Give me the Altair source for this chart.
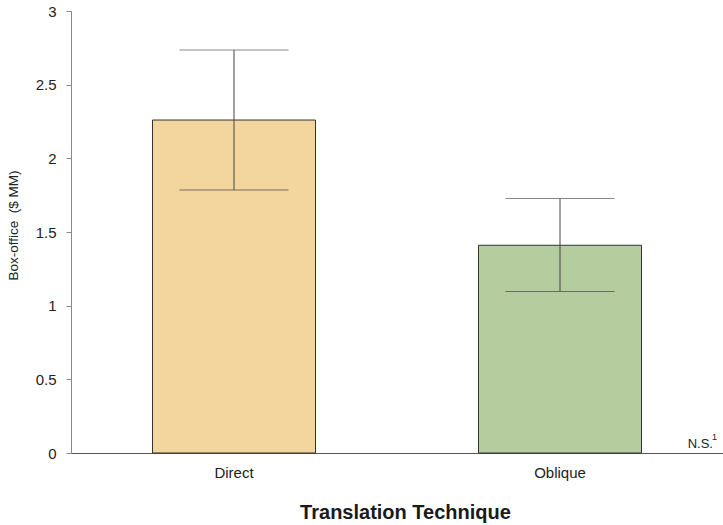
import altair as alt
import pandas as pd

# Mean box-office by translation technique, with error bounds
techniques = ["Direct", "Oblique"]
means = [2.26, 1.41]
lower = [1.785, 1.097]
upper = [2.735, 1.727]
fills = ["#f3d69d", "#b5cc9f"]

df = pd.DataFrame({
    "technique": techniques,
    "mean": means,
    "lower": lower,
    "upper": upper,
    "fill": fills,
})

y_ticks = [i * 0.25 for i in range(13)]

x_enc = alt.X(
    "technique:N",
    sort=techniques,
    scale=alt.Scale(paddingInner=0.5, paddingOuter=0.25),
    axis=alt.Axis(
        title="Translation Technique",
        titleFont="Liberation Sans",
        titleFontSize=20,
        titleFontWeight="bold",
        titleColor="#1a1a1a",
        titleAlign="center",
        titleBaseline="alphabetic",
        titleX=334,
        titleY=65,
        labelAngle=0,
        labelFont="Liberation Sans",
        labelFontSize=15,
        labelColor="#222222",
        labelPadding=12,
        ticks=False,
        domainColor="#555555",
        domainWidth=1,
    ),
)

y_scale = alt.Scale(domain=[0, 3], nice=False)

bars = alt.Chart(df).mark_bar(stroke="#333333", strokeWidth=1).encode(
    x=x_enc,
    y=alt.Y(
        "mean:Q",
        scale=y_scale,
        axis=alt.Axis(
            title="Box-office \u00a0($ MM)",
            titleFont="Liberation Sans",
            titleFontSize=13.5,
            titleFontWeight="normal",
            titleColor="#222222",
            titleAngle=270,
            titleAlign="center",
            titleBaseline="bottom",
            titleX=-51,
            titleY=214,
            values=y_ticks,
            labelExpr="datum.value % 0.5 === 0 ? format(datum.value, '~g') : ''",
            labelFont="Liberation Sans",
            labelFontSize=15,
            labelColor="#222222",
            labelPadding=10,
            tickSize={"condition": {"test": "datum.value % 0.5 === 0", "value": 5}, "value": 3},
            tickColor="#888888",
            domainColor="#888888",
            grid=False,
        ),
    ),
    color=alt.Color("fill:N", scale=None),
)

stems = alt.Chart(df).mark_rule(color="#444444", strokeWidth=1).encode(
    x=alt.X("technique:N", sort=techniques),
    y="lower:Q",
    y2="upper:Q",
)

caps_top = alt.Chart(df).mark_tick(color="#555555", size=109, thickness=1).encode(
    x=alt.X("technique:N", sort=techniques),
    y="upper:Q",
)

caps_bottom = alt.Chart(df).mark_tick(color="#444444", size=109, thickness=1).encode(
    x=alt.X("technique:N", sort=techniques),
    y="lower:Q",
)

# Significance note at the right end of the baseline
note = pd.DataFrame({"text": ["N.S."], "sup": ["1"], "y": [0]})
ns_text = alt.Chart(note).mark_text(
    font="Liberation Sans", fontSize=13, align="right", baseline="alphabetic",
    color="#222222", dx=-10, dy=-5,
).encode(x=alt.value(652), y="y:Q", text="text:N")
ns_sup = alt.Chart(note).mark_text(
    font="Liberation Sans", fontSize=9, align="right", baseline="alphabetic",
    color="#222222", dx=-6, dy=-13,
).encode(x=alt.value(652), y="y:Q", text="sup:N")

chart = alt.layer(bars, stems, caps_top, caps_bottom, ns_text, ns_sup).properties(
    width=652,
    height=442,
    padding={"left": 71, "top": 11, "right": 0, "bottom": 72},
    autosize=alt.AutoSizeParams(type="none"),
    background="white",
).configure_view(stroke=None)

chart.save("out.html", embed_options={"renderer": "svg", "actions": False})
